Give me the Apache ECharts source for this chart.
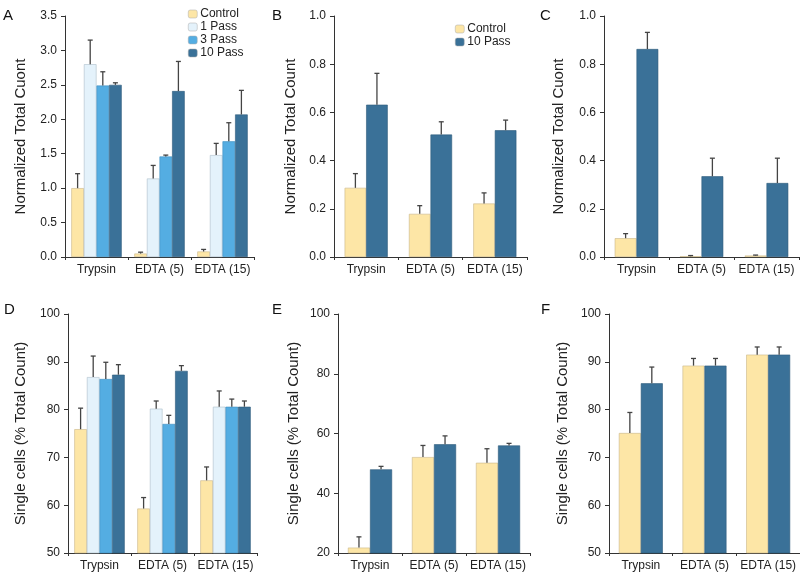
<!DOCTYPE html>
<html>
<head>
<meta charset="utf-8">
<script src="https://cdn.jsdelivr.net/npm/echarts@6/dist/echarts.min.js"></script>
<style>
  html, body { margin: 0; padding: 0; background: #fff; }
  #main { width: 800px; height: 574px; }
</style>
</head>
<body>
<div id="main"></div>
<script>
// 类别
var categories = ['Trypsin', 'EDTA (5)', 'EDTA (15)'];

// A: normalized total count, 4 series
var aControl = [1.00, 0.05, 0.08];
var aControlErr = [0.21, 0.02, 0.03];
var aPass1 = [2.80, 1.14, 1.48];
var aPass1Err = [0.35, 0.19, 0.17];
var aPass3 = [2.49, 1.46, 1.68];
var aPass3Err = [0.20, 0.02, 0.27];
var aPass10 = [2.50, 2.41, 2.07];
var aPass10Err = [0.03, 0.43, 0.35];

// B
var bControl = [0.287, 0.179, 0.222];
var bControlErr = [0.059, 0.034, 0.044];
var bPass10 = [0.632, 0.508, 0.526];
var bPass10Err = [0.130, 0.053, 0.042];

// C
var cControl = [0.078, 0.003, 0.006];
var cControlErr = [0.019, 0.003, 0.002];
var cPass10 = [0.863, 0.335, 0.307];
var cPass10Err = [0.069, 0.075, 0.103];

// D: single cells %
var dControl = [75.9, 59.3, 65.2];
var dControlErr = [4.4, 2.3, 2.8];
var dPass1 = [86.8, 80.2, 80.6];
var dPass1Err = [4.4, 1.6, 3.3];
var dPass3 = [86.4, 77.0, 80.6];
var dPass3Err = [3.5, 1.8, 1.6];
var dPass10 = [87.3, 88.1, 80.6];
var dPass10Err = [2.1, 1.1, 1.2];

// E
var eControl = [21.8, 52.1, 50.2];
var eControlErr = [3.6, 3.9, 4.7];
var ePass10 = [48.0, 56.4, 56.0];
var ePass10Err = [1.0, 2.8, 0.7];

// F
var fControl = [75.1, 89.2, 91.5];
var fControlErr = [4.3, 1.5, 1.6];
var fPass10 = [85.5, 89.2, 91.5];
var fPass10Err = [3.4, 1.5, 1.6];

// 颜色
var colors = {
    'Control': '#fde6a6',
    '1 Pass': '#e4f2fb',
    '3 Pass': '#54ade2',
    '10 Pass': '#3a7198'
};
var borders = {
    'Control': '#c9b78a',
    '1 Pass': '#aebfcb',
    '3 Pass': '#3f8fc0',
    '10 Pass': '#2d5a7a'
};

var FONT = 'Liberation Sans, Arial, Helvetica, sans-serif';

// 面板布局
var panels = [
    { letter: 'A', left: 65, top: 16, width: 189, height: 241, min: 0, max: 3.5, interval: 0.5, dec: 1,
      name: 'Normalized Total Cuont', nameGap: 37, gap: 0.20, lx: 3, ly: 8,
      series: [['Control', aControl, aControlErr], ['1 Pass', aPass1, aPass1Err], ['3 Pass', aPass3, aPass3Err], ['10 Pass', aPass10, aPass10Err]] },
    { letter: 'B', left: 334, top: 16, width: 193, height: 241, min: 0, max: 1, interval: 0.2, dec: 1,
      name: 'Normalized Total Count', nameGap: 36, gap: 0.33, lx: 272, ly: 8,
      series: [['Control', bControl, bControlErr], ['10 Pass', bPass10, bPass10Err]] },
    { letter: 'C', left: 604, top: 16, width: 195, height: 241, min: 0, max: 1, interval: 0.2, dec: 1,
      name: 'Normalized Total Cuont', nameGap: 38, gap: 0.33, lx: 540, ly: 8,
      series: [['Control', cControl, cControlErr], ['10 Pass', cPass10, cPass10Err]] },
    { letter: 'D', left: 68, top: 314, width: 189, height: 239, min: 50, max: 100, interval: 10, dec: 0,
      name: 'Single cells (% Total Count)', nameGap: 40, gap: 0.20, lx: 4, ly: 302,
      series: [['Control', dControl, dControlErr], ['1 Pass', dPass1, dPass1Err], ['3 Pass', dPass3, dPass3Err], ['10 Pass', dPass10, dPass10Err]] },
    { letter: 'E', left: 338, top: 314, width: 192, height: 239, min: 20, max: 100, interval: 20, dec: 0,
      name: 'Single cells (% Total Count)', nameGap: 37, gap: 0.31, lx: 272, ly: 302,
      series: [['Control', eControl, eControlErr], ['10 Pass', ePass10, ePass10Err]] },
    { letter: 'F', left: 609, top: 314, width: 191, height: 239, min: 50, max: 100, interval: 10, dec: 0,
      name: 'Single cells (% Total Count)', nameGap: 39, gap: 0.31, lx: 541, ly: 302,
      series: [['Control', fControl, fControlErr], ['10 Pass', fPass10, fPass10Err]] }
];

var grid = [], xAxis = [], yAxis = [], series = [], graphic = [];

panels.forEach(function(p, pi) {
    grid.push({ left: p.left, top: p.top, width: p.width, height: p.height });
    xAxis.push({
        type: 'category', gridIndex: pi, data: categories,
        axisLine: { lineStyle: { color: '#333', width: 1 } },
        axisTick: { show: true, length: 3, lineStyle: { color: '#333' } },
        axisLabel: { color: '#222', fontSize: 12, fontFamily: FONT, margin: 7, interval: 0 }
    });
    yAxis.push({
        type: 'value', gridIndex: pi, min: p.min, max: p.max, interval: p.interval,
        name: p.name, nameLocation: 'middle', nameGap: p.nameGap, nameRotate: 90,
        nameTextStyle: { color: '#222', fontSize: 15, fontFamily: FONT },
        axisLine: { show: true, lineStyle: { color: '#333', width: 1 } },
        axisTick: { show: true, length: 4, lineStyle: { color: '#333' } },
        axisLabel: { color: '#222', fontSize: 12, fontFamily: FONT, margin: 8,
            formatter: function(v) { return v.toFixed(p.dec); } },
        splitLine: { show: false }
    });
    var n = p.series.length;
    p.series.forEach(function(s, k) {
        series.push({
            type: 'bar', name: s[0], xAxisIndex: pi, yAxisIndex: pi,
            data: s[1],
            barGap: '0%', barCategoryGap: Math.round(p.gap * 100) + '%',
            itemStyle: { color: colors[s[0]], borderColor: borders[s[0]], borderWidth: 0.6 },
            emphasis: { disabled: true },
            animation: false
        });
        // 误差线
        series.push({
            type: 'custom', name: s[0] + ' err', xAxisIndex: pi, yAxisIndex: pi,
            data: s[1].map(function(v, i) { return [i, v, s[2][i]]; }),
            z: 5, animation: false, silent: true,
            renderItem: function(params, api) {
                var catW = api.size([1, 0])[0];
                var barW = catW * (1 - p.gap) / n;
                var dx = (k - (n - 1) / 2) * barW;
                var base = api.coord([api.value(0), api.value(1)]);
                var top = api.coord([api.value(0), api.value(1) + api.value(2)]);
                var x = base[0] + dx;
                var st = { stroke: '#444', lineWidth: 1.3 };
                return {
                    type: 'group',
                    children: [
                        { type: 'line', shape: { x1: x, y1: base[1], x2: x, y2: top[1] }, style: st },
                        { type: 'line', shape: { x1: x - 2.5, y1: top[1], x2: x + 2.5, y2: top[1] }, style: st }
                    ]
                };
            }
        });
    });
    graphic.push({
        type: 'text', left: p.lx, top: p.ly,
        style: { text: p.letter, fontSize: 15, fontFamily: FONT, fill: '#111' }
    });
});

var legendCommon = {
    orient: 'vertical', itemWidth: 9, itemHeight: 8, itemGap: 1,
    textStyle: { fontSize: 12, fontFamily: FONT, color: '#222', padding: [0, 0, 0, -2] },
    itemStyle: { borderColor: '#aaa', borderWidth: 0.5 },
    selectedMode: false, padding: 0
};

var option = {
    backgroundColor: '#fff',
    animation: false,
    grid: grid,
    xAxis: xAxis,
    yAxis: yAxis,
    legend: [
        Object.assign({}, legendCommon, { left: 188, top: 8, data: ['Control', '1 Pass', '3 Pass', '10 Pass'] }),
        Object.assign({}, legendCommon, { left: 455, top: 23, itemGap: 1, data: ['Control', '10 Pass'] })
    ],
    graphic: graphic,
    series: series
};

var chart = echarts.init(document.getElementById('main'));
chart.setOption(option);
</script>
</body>
</html>
